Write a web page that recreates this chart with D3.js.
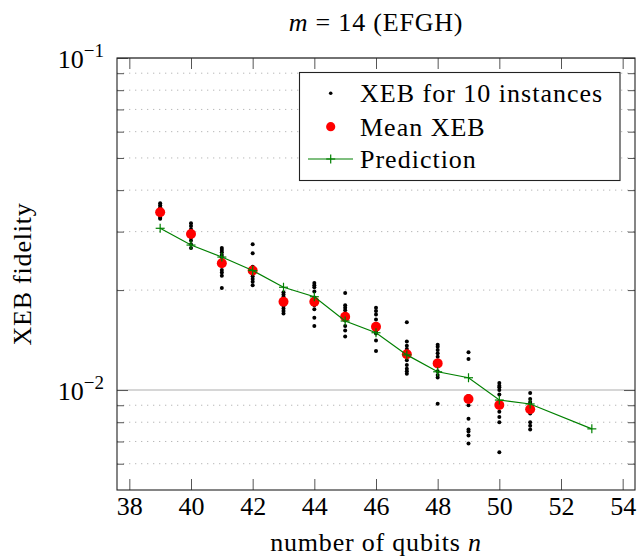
<!DOCTYPE html>
<html>
<head>
<meta charset="utf-8">
<script src="https://cdn.jsdelivr.net/npm/d3@7"></script>
<style>
  html, body { margin: 0; padding: 0; background: #fff; }
  svg { display: block; }
  text { font-family: "Liberation Serif", "Times New Roman", serif; fill: #000; }
</style>
</head>
<body>
<svg id="chart" width="637" height="557"></svg>
<script>
// ---------- data ----------
const xTickValues = [38, 40, 42, 44, 46, 48, 50, 52, 54];
const yMajorTicks = [0.01, 0.1];
const yMajorExponents = ["−2", "−1"];
const yMinorTicks = [0.006, 0.007, 0.008, 0.009, 0.02, 0.03, 0.04, 0.05, 0.06, 0.07, 0.08, 0.09];

const qubits = [39, 40, 41, 42, 43, 44, 45, 46, 47, 48, 49, 50, 51];
const instanceXEB = [
  [0.0365, 0.0360, 0.0355, 0.0350, 0.0345, 0.0340, 0.0338, 0.0335, 0.0330, 0.0328],
  [0.0318, 0.0312, 0.0305, 0.0300, 0.0295, 0.0290, 0.0288, 0.0282, 0.0275, 0.0268],
  [0.0268, 0.0264, 0.0260, 0.0255, 0.0251, 0.0241, 0.0230, 0.0226, 0.0221, 0.0203],
  [0.0275, 0.0258, 0.0235, 0.0232, 0.0228, 0.0225, 0.0220, 0.0216, 0.0212, 0.0207],
  [0.0197, 0.0194, 0.0191, 0.0188, 0.0185, 0.0182, 0.0179, 0.0176, 0.0173, 0.0170],
  [0.0210, 0.0207, 0.0204, 0.0198, 0.0190, 0.0185, 0.0180, 0.0175, 0.0165, 0.0156],
  [0.0196, 0.0180, 0.0177, 0.0174, 0.0168, 0.0165, 0.0162, 0.0156, 0.0151, 0.0145],
  [0.0177, 0.0173, 0.0169, 0.0163, 0.0158, 0.0155, 0.0150, 0.0148, 0.0141, 0.0131],
  [0.0160, 0.0140, 0.0136, 0.0133, 0.0128, 0.0123, 0.0119, 0.0116, 0.0114, 0.0112],
  [0.0137, 0.0135, 0.0132, 0.0129, 0.0126, 0.0118, 0.0114, 0.0111, 0.0109, 0.0091],
  [0.0130, 0.0124, 0.0096, 0.0093, 0.0090, 0.0082, 0.0076, 0.0075, 0.0073, 0.0069],
  [0.0105, 0.0103, 0.0102, 0.0100, 0.0097, 0.0092, 0.0086, 0.0083, 0.0080, 0.0065],
  [0.0098, 0.0094, 0.0092, 0.0091, 0.0089, 0.0087, 0.0085, 0.0080, 0.0078, 0.0076]
];
const meanXEB = [0.0343, 0.0295, 0.0241, 0.0229, 0.01845, 0.01845, 0.01663, 0.01551, 0.01281, 0.01203, 0.0094, 0.00901, 0.00875];

const predQubits = [39, 40, 41, 42, 43, 44, 45, 46, 47, 48, 49, 50, 51, 53];
const predXEB = [0.0307, 0.02733, 0.02515, 0.0229, 0.0204, 0.0191, 0.01614, 0.01488, 0.01276, 0.01135, 0.01089, 0.00933, 0.00908, 0.00764];

const legendLabels = ["XEB for 10 instances", "Mean XEB", "Prediction"];

// ---------- layout ----------
const L = 117, R = 635, T = 58, B = 490;
const FS = 26;
const green = "#008000";

const svg = d3.select("#chart");
const x = d3.scaleLinear().domain([37.6, 54.4]).range([L, R]);
const y = d3.scaleLog().domain([0.005, 0.1]).range([B, T]);

// grid
const grid = svg.append("g");
grid.selectAll("line.minor").data(yMinorTicks).join("line")
  .attr("x1", L).attr("x2", R)
  .attr("y1", d => y(d)).attr("y2", d => y(d))
  .attr("stroke", "#b8b8b8").attr("stroke-width", 1)
  .attr("stroke-dasharray", "1.3,4.7");
grid.selectAll("line.major").data(yMajorTicks).join("line")
  .attr("x1", L).attr("x2", R)
  .attr("y1", d => y(d)).attr("y2", d => y(d))
  .attr("stroke", "#c8c8c8").attr("stroke-width", 1.6);

// axes (ticks inward)
function styleAxis(g) {
  g.select(".domain").remove();
  g.selectAll(".tick line").attr("stroke", "#555").attr("stroke-width", 1);
}
const xb = svg.append("g").attr("transform", `translate(0,${B})`)
  .call(d3.axisBottom(x).tickValues(xTickValues).tickSize(-11).tickPadding(7).tickFormat(d3.format("d")));
styleAxis(xb);
xb.selectAll(".tick text").attr("font-size", FS).attr("font-family", "Liberation Serif, serif").attr("fill", "#000");

const xt = svg.append("g").attr("transform", `translate(0,${T})`)
  .call(d3.axisTop(x).tickValues(xTickValues).tickSize(-11).tickFormat(""));
styleAxis(xt);

const yl = svg.append("g").attr("transform", `translate(${L},0)`)
  .call(d3.axisLeft(y).tickValues(yMajorTicks).tickSize(-11).tickFormat(""));
styleAxis(yl);
const ylm = svg.append("g").attr("transform", `translate(${L},0)`)
  .call(d3.axisLeft(y).tickValues(yMinorTicks).tickSize(-7).tickFormat(""));
styleAxis(ylm);
const yr = svg.append("g").attr("transform", `translate(${R},0)`)
  .call(d3.axisRight(y).tickValues(yMajorTicks).tickSize(-11).tickFormat(""));
styleAxis(yr);
const yrm = svg.append("g").attr("transform", `translate(${R},0)`)
  .call(d3.axisRight(y).tickValues(yMinorTicks).tickSize(-7).tickFormat(""));
styleAxis(yrm);

// y tick labels with superscripts
yMajorTicks.forEach((v, i) => {
  const t = svg.append("text")
    .attr("x", L - 13).attr("y", y(v) + 10)
    .attr("text-anchor", "end").attr("font-size", FS);
  t.append("tspan").text("10");
  t.append("tspan").attr("font-size", 19).attr("dy", -11).text(yMajorExponents[i]);
});

// frame
svg.append("rect").attr("x", L).attr("y", T).attr("width", R - L).attr("height", B - T)
  .attr("fill", "none").attr("stroke", "#222").attr("stroke-width", 1.1);

// instances
const inst = [];
qubits.forEach((q, i) => instanceXEB[i].forEach(v => inst.push({ q, v })));
svg.append("g").selectAll("circle").data(inst).join("circle")
  .attr("cx", d => x(d.q)).attr("cy", d => y(d.v)).attr("r", 2).attr("fill", "#000");

// means
svg.append("g").selectAll("circle").data(qubits).join("circle")
  .attr("cx", d => x(d)).attr("cy", (d, i) => y(meanXEB[i])).attr("r", 5).attr("fill", "#ff0000");

// prediction
const pred = predQubits.map((q, i) => ({ q, v: predXEB[i] }));
svg.append("path").datum(pred)
  .attr("d", d3.line().x(d => x(d.q)).y(d => y(d.v)))
  .attr("fill", "none").attr("stroke", green).attr("stroke-width", 1.2);
const plus = (g, cx, cy) => {
  g.append("line").attr("x1", cx - 4.5).attr("x2", cx + 4.5).attr("y1", cy).attr("y2", cy)
    .attr("stroke", green).attr("stroke-width", 1.2);
  g.append("line").attr("x1", cx).attr("x2", cx).attr("y1", cy - 4.5).attr("y2", cy + 4.5)
    .attr("stroke", green).attr("stroke-width", 1.2);
};
const pg = svg.append("g");
pred.forEach(d => plus(pg, x(d.q), y(d.v)));

// legend
const lg = svg.append("g");
lg.append("rect").attr("x", 299.5).attr("y", 72.5).attr("width", 320.5).attr("height", 108)
  .attr("fill", "#fff").attr("stroke", "#222").attr("stroke-width", 1.1);
const rowsY = [93.3, 126.7, 159];
lg.append("circle").attr("cx", 330.7).attr("cy", rowsY[0]).attr("r", 1.8).attr("fill", "#000");
lg.append("circle").attr("cx", 330.7).attr("cy", rowsY[1]).attr("r", 4.6).attr("fill", "#ff0000");
lg.append("line").attr("x1", 308).attr("x2", 353).attr("y1", rowsY[2]).attr("y2", rowsY[2])
  .attr("stroke", green).attr("stroke-width", 1.2);
plus(lg, 330.7, rowsY[2]);
legendLabels.forEach((s, i) => {
  lg.append("text").attr("x", 360).attr("y", rowsY[i] + 9)
    .attr("font-size", FS).attr("letter-spacing", "1px").text(s);
});

// title
const title = svg.append("text").attr("x", 376).attr("y", 31)
  .attr("text-anchor", "middle").attr("font-size", FS).attr("letter-spacing", "0.8px");
title.append("tspan").attr("font-style", "italic").text("m");
title.append("tspan").text(" = 14 (EFGH)");

// x label
const xlab = svg.append("text").attr("x", 376).attr("y", 551)
  .attr("text-anchor", "middle").attr("font-size", FS).attr("letter-spacing", "0.8px");
xlab.append("tspan").text("number of qubits ");
xlab.append("tspan").attr("font-style", "italic").text("n");

// y label
svg.append("text").attr("transform", `translate(31,${(T + B) / 2}) rotate(-90)`)
  .attr("text-anchor", "middle").attr("font-size", FS).attr("letter-spacing", "0.8px")
  .text("XEB fidelity");
</script>
</body>
</html>
